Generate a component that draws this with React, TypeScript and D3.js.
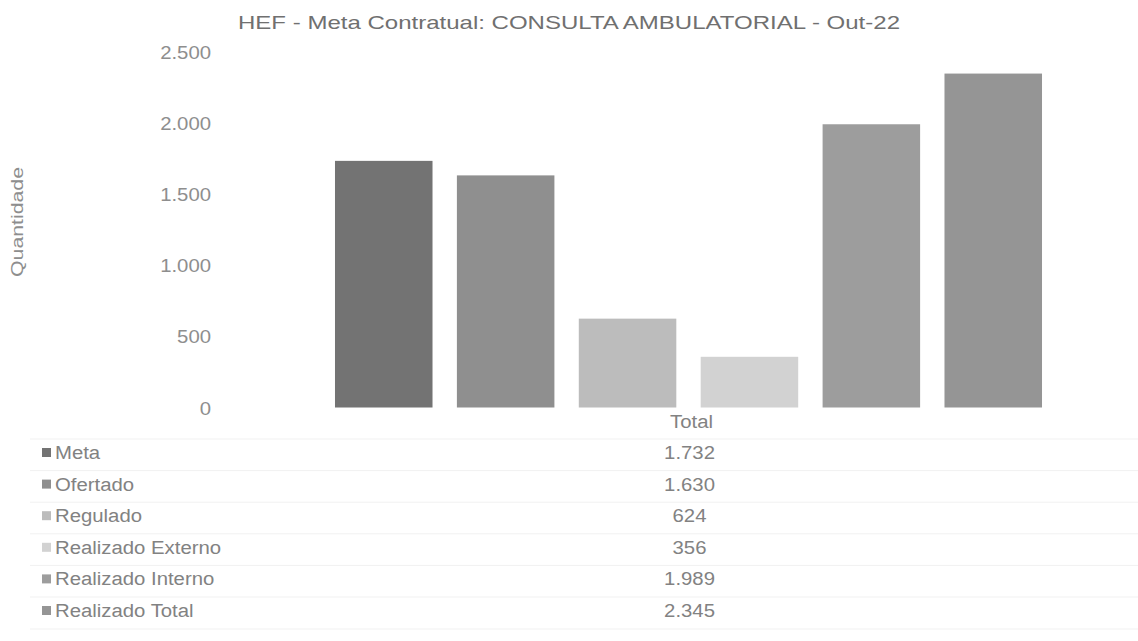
import React from "react";
import * as d3 from "d3";

const title = "HEF - Meta Contratual: CONSULTA AMBULATORIAL - Out-22";
const category = "Total";
const seriesNames = ["Meta", "Ofertado", "Regulado", "Realizado Externo", "Realizado Interno", "Realizado Total"];
const seriesValues = [1732, 1630, 624, 356, 1989, 2345];
const seriesColors = ["#737373", "#8f8f8f", "#bcbcbc", "#d2d2d2", "#9d9d9d", "#959595"];
const yTicks = [0, 500, 1000, 1500, 2000, 2500];

const W = 1138;
const H = 641;
const SX = 1.13;

type TProps = {
  x: number;
  y: number;
  anchor?: "start" | "middle" | "end";
  size: number;
  fill: string;
  children: React.ReactNode;
};

function SText({ x, y, anchor = "start", size, fill, children }: TProps) {
  return (
    <g transform={`translate(${x},${y}) scale(${SX},1)`}>
      <text x={0} y={0} textAnchor={anchor} fontSize={size} fill={fill}>
        {children}
      </text>
    </g>
  );
}

export default function App() {
  const fmt = (v: number) => d3.format(",")(v).replace(/,/g, ".");
  const y = d3.scaleLinear().domain([0, 2500]).range([407.5, 51.5]);
  const x0 = d3.scaleBand<string>().domain([category]).range([322.8, 1054.2]);
  const x1 = d3
    .scaleBand<string>()
    .domain(seriesNames)
    .range([0, x0.bandwidth()])
    .paddingInner(0.2)
    .paddingOuter(0.1);
  const catCenter = (x0(category) ?? 0) + x0.bandwidth() / 2 + 1;
  const rowY = d3.scaleLinear().domain([0, 5]).range([459, 617]);
  const font = "'Liberation Sans', Arial, sans-serif";
  const textColor = "#828282";
  const tickColor = "#8e8e8e";

  return (
    <svg
      width={W}
      height={H}
      style={{ position: "absolute", left: 0, top: 0, background: "#ffffff" }}
      fontFamily={font}
    >
      <rect x={0} y={0} width={W} height={H} fill="#ffffff" />
      <text
        x={238}
        y={29}
        fontSize={19}
        fill="#707070"
        textLength={662}
        lengthAdjust="spacingAndGlyphs"
      >
        {title}
      </text>
      <text
        transform={`translate(23,222) rotate(-90)`}
        textAnchor="middle"
        fontSize={17}
        fill="#8e8e8e"
        textLength={110}
        lengthAdjust="spacingAndGlyphs"
      >
        Quantidade
      </text>
      {yTicks.map((t) => (
        <SText key={t} x={211} y={y(t) + 7} anchor="end" size={18} fill={tickColor}>
          {fmt(t)}
        </SText>
      ))}
      {seriesNames.map((s, i) => (
        <rect
          key={s}
          x={(x0(category) ?? 0) + (x1(s) ?? 0)}
          y={y(seriesValues[i])}
          width={x1.bandwidth()}
          height={y(0) - y(seriesValues[i])}
          fill={seriesColors[i]}
        />
      ))}
      <SText x={catCenter + 2} y={428} anchor="middle" size={18} fill={textColor}>
        {category}
      </SText>
      {seriesNames.map((s, i) => (
        <line
          key={"l" + s}
          x1={30}
          x2={1138}
          y1={rowY(i) - 20}
          y2={rowY(i) - 20}
          stroke="#f1f1f1"
          strokeWidth={1}
        />
      ))}
      <line x1={30} x2={1138} y1={rowY(5) + 12} y2={rowY(5) + 12} stroke="#f1f1f1" strokeWidth={1} />
      {seriesNames.map((s, i) => (
        <g key={"row" + s}>
          <rect x={42} y={rowY(i) - 11} width={9} height={9} fill={seriesColors[i]} />
          <SText x={55} y={rowY(i)} size={18} fill={textColor}>
            {s}
          </SText>
          <SText x={catCenter} y={rowY(i)} anchor="middle" size={18} fill={textColor}>
            {fmt(seriesValues[i])}
          </SText>
        </g>
      ))}
    </svg>
  );
}
